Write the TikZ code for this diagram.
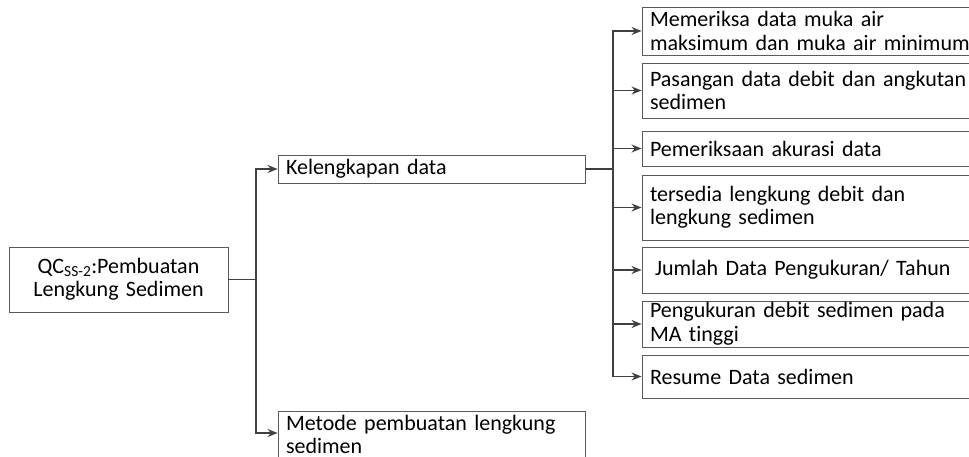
\documentclass[tikz,border=0pt]{standalone}
\usepackage{fontspec}
\setmainfont{Carlito}[Ligatures=NoCommon]
\usetikzlibrary{arrows.meta}
\definecolor{linegray}{HTML}{404040}
\definecolor{boxgray}{HTML}{5A5A5A}

\begin{document}
\begin{tikzpicture}[x=1pt,y=-1pt,
        box/.style={draw=boxgray, line width=0.9pt, rectangle, inner xsep=8pt, inner ysep=0pt, align=left, font=\fontsize{22}{23.5}\selectfont},
        link/.style={draw=linegray, line width=1.3pt},
        tip/.style={-{Stealth[length=10pt,width=8pt]}}]

    \useasboundingbox (0,0) rectangle (969,457);
    \clip (0,0) rectangle (969,457);

    % root on the left
    \node[box, align=center, text width=203pt, minimum height=65pt] (root) at (118.5,279.5) {QC\textsubscript{SS-2}:Pembuatan\\Lengkung Sedimen};

    % middle column
    \node[box, text width=291pt, minimum height=28pt] (kel) at (431.5,169) {Kelengkapan data};
    \node[box, text width=291pt, minimum height=46pt] (metode) at (431.5,434.5) {Metode pembuatan lengkung\\sedimen};

    % right column
    \node[box, text width=324pt, minimum height=48pt] (d1) at (812,31) {Memeriksa data muka air\\maksimum dan muka air minimum};
    \node[box, text width=324pt, minimum height=55pt] (d2) at (812,90.5) {Pasangan data debit dan angkutan\\sedimen};
    \node[box, text width=324pt, minimum height=35pt] (d3) at (812,148.5) {Pemeriksaan akurasi data};
    \node[box, text width=324pt, minimum height=65pt] (d4) at (812,207.5) {tersedia lengkung debit dan\\lengkung sedimen};
    \node[box, text width=324pt, minimum height=46pt] (d5) at (812,270) {\hspace{5pt}Jumlah Data Pengukuran/ Tahun};
    \node[box, text width=324pt, minimum height=46pt] (d6) at (812,324) {Pengukuran debit sedimen pada\\MA tinggi};
    \node[box, text width=324pt, minimum height=43pt] (d7) at (812,376.5) {Resume Data sedimen};

    % connectors
    \coordinate (lbus) at (256,279.5);
    \coordinate (rbus) at (613,169);
    \draw[link] (root.east) -- (lbus);
    \draw[link,tip] (lbus) |- (kel.west);
    \draw[link,tip] (lbus) |- ([yshift=1.5pt]metode.west);
    \draw[link] (kel.east) -- (rbus);
    \foreach \i in {1,...,7}
        \draw[link,tip] (rbus) |- (d\i.west);

\end{tikzpicture}
\end{document}
